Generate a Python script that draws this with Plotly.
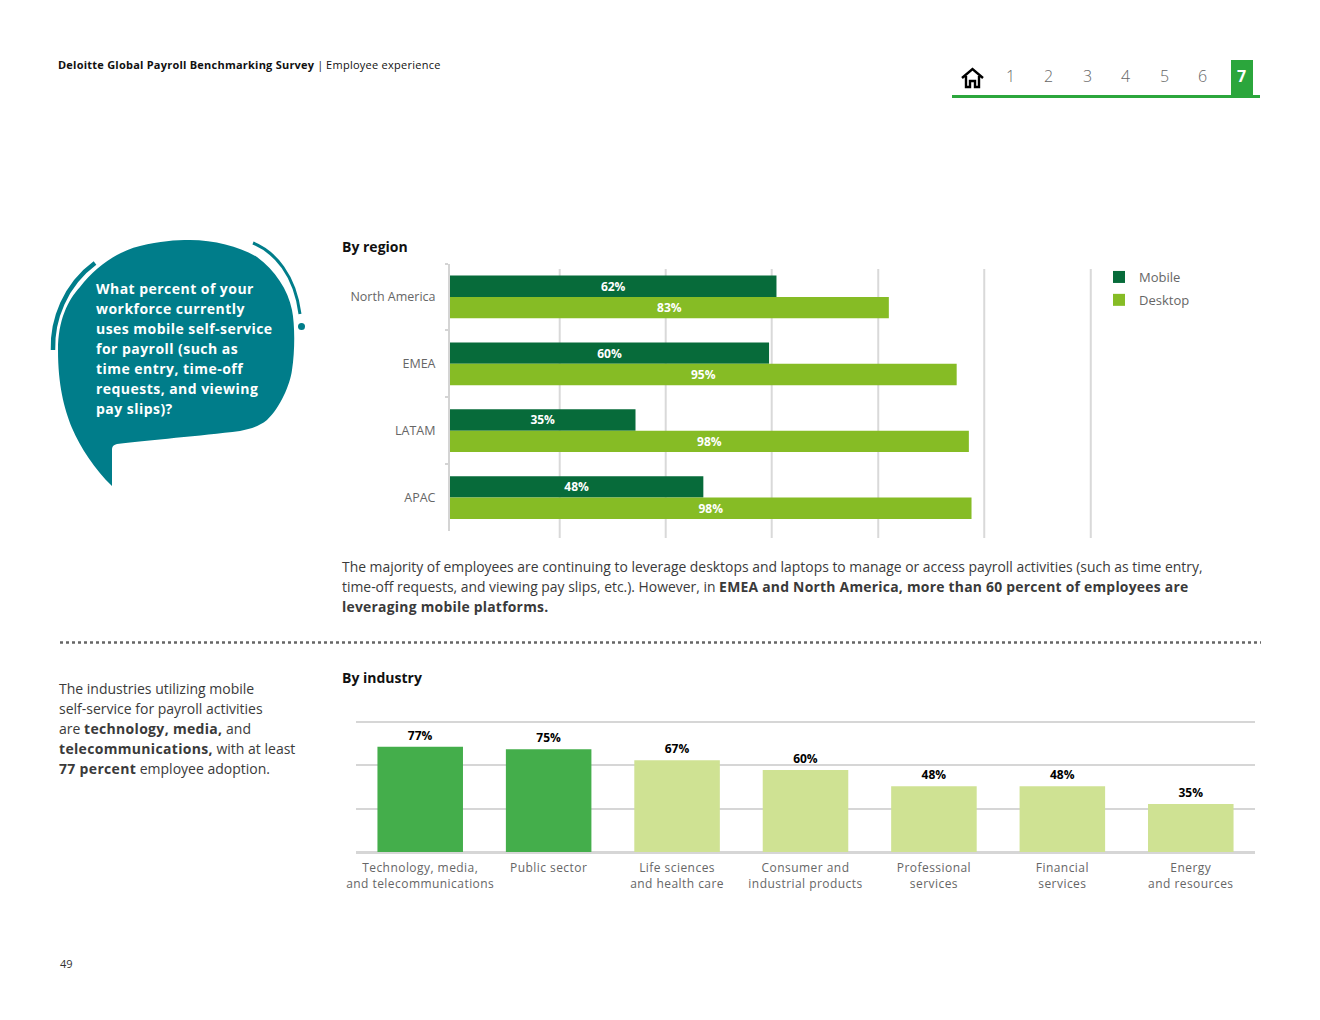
import plotly.graph_objects as go

W, H = 1320, 1020
FONT = "Open Sans"
DARK_TEXT = "#666666"

# ---- data
regions = ["North America", "EMEA", "LATAM", "APAC"]
mobile = [61.6, 60.2, 35.0, 47.8]
desktop = [82.8, 95.6, 97.9, 98.4]
mobile_labels = ["62%", "60%", "35%", "48%"]
desktop_labels = ["83%", "95%", "98%", "98%"]

industries = [
    "Technology, media,<br>and telecommunications",
    "Public sector",
    "Life sciences<br>and health care",
    "Consumer and<br>industrial products",
    "Professional<br>services",
    "Financial<br>services",
    "Energy<br>and resources",
]
adoption = [77, 75, 67, 60, 48, 48, 35]
adoption_labels = ["77%", "75%", "67%", "60%", "48%", "48%", "35%"]
top_flags = [True, True, False, False, False, False, False]

region_grid = [20.7, 40.7, 60.7, 80.8, 100.8, 120.9]

bubble_lines = [
    "What percent of your", "workforce currently", "uses mobile self-service",
    "for payroll (such as", "time entry, time-off", "requests, and viewing", "pay slips)?",
]
side_lines = [
    "The industries utilizing mobile", "self-service for payroll activities",
    "are {b1} and",
    "{b2} with at least",
    "{b3} employee adoption.",
]
side_bold = {"b1": "technology, media,", "b2": "telecommunications,", "b3": "77 percent"}
body_lines = [
    "The majority of employees are continuing to leverage desktops and laptops to manage or access payroll activities (such as time entry,",
    "time-off requests, and viewing pay slips, etc.). However, in {b1}",
    "{b2}",
]
body_bold = {"b1": "EMEA and North America, more than 60 percent of employees are", "b2": "leveraging mobile platforms."}
nav_items = ["1", "2", "3", "4", "5", "6"]


def fx(px):
    return px / W


def fy(py):
    return 1 - py / H


def spaced(s, em, bold=False):
    """Letter-spaced run of real text; each <br>-separated line gets its own span."""
    parts = [f'<span style="letter-spacing:{em}px">{p}</span>' for p in s.split("<br>")]
    joined = "<br>".join(parts)
    return f"<b>{joined}</b>" if bold else joined


def to_paper_path(parts):
    out = []
    for p in parts:
        if isinstance(p, str):
            out.append(p)
        else:
            out.append(f"{fx(p[0]):.5f},{fy(p[1]):.5f}")
    return " ".join(out)


fig = go.Figure()

fig.add_trace(go.Bar(
    name="Mobile", y=regions, x=mobile, orientation="h", marker_color="#076B3A", marker_line_width=0,
    text=mobile_labels, textposition="inside", insidetextanchor="middle", textangle=0, constraintext="none",
    textfont=dict(family=FONT, size=12, color="white", weight="bold"),
    xaxis="x", yaxis="y", legendgroup="m",
))
fig.add_trace(go.Bar(
    name="Desktop", y=regions, x=desktop, orientation="h", marker_color="#86BC25", marker_line_width=0,
    text=desktop_labels, textposition="inside", insidetextanchor="middle", textangle=0, constraintext="none",
    textfont=dict(family=FONT, size=12, color="white", weight="bold"),
    xaxis="x", yaxis="y", legendgroup="d",
))
fig.add_trace(go.Bar(
    x=industries, y=adoption,
    marker_color=["#44AE4B" if f else "#CFE293" for f in top_flags], marker_line_width=0,
    text=adoption_labels, textposition="outside", cliponaxis=False, constraintext="none",
    textfont=dict(family=FONT, size=12, color="black", weight="bold"),
    xaxis="x2", yaxis="y2", showlegend=False, width=0.666,
))

shapes = []
# region chart gridlines, drawn below bars
for v in region_grid:
    shapes.append(dict(type="line", xref="x", yref="paper", x0=v, x1=v, y0=fy(269), y1=fy(538),
                       line=dict(color="#D9D9D9", width=2), layer="below"))

# speech bubble
bubble = to_paper_path([
    "M", (112, 486),
    "C", (95, 470), (80, 447), (72, 428),
    "C", (64, 408), (58, 385), (58, 350),
    "C", (58, 320), (68, 300), (80, 287),
    "C", (95, 268), (115, 252), (140, 246),
    "C", (160, 241), (175, 240), (190, 240),
    "C", (215, 240), (240, 247), (257, 257),
    "C", (275, 270), (288, 290), (292, 310),
    "C", (295, 325), (295, 350), (292, 370),
    "C", (290, 385), (280, 408), (267, 420),
    "C", (258, 427), (250, 429), (240, 431),
    "C", (200, 436), (150, 440), (117, 444),
    "C", (113, 445), (112, 447), (112, 450),
    "Z",
])
TEAL = "#007D8A"
shapes.append(dict(type="path", xref="paper", yref="paper", path=bubble, fillcolor=TEAL, line_width=0, layer="below"))
shapes.append(dict(type="path", xref="paper", yref="paper", line=dict(color=TEAL, width=4.5),
                   path=to_paper_path(["M", (53, 350), "C", (52, 320), (65, 285), (95, 263)])))
shapes.append(dict(type="path", xref="paper", yref="paper", line=dict(color=TEAL, width=3),
                   path=to_paper_path(["M", (253, 243), "C", (275, 252), (295, 275), (300, 314)])))
shapes.append(dict(type="circle", xref="paper", yref="paper", x0=fx(298), x1=fx(305), y0=fy(330), y1=fy(323),
                   fillcolor=TEAL, line_width=0))

# navigation
GREEN = "#2BA63C"
shapes.append(dict(type="rect", xref="paper", yref="paper", x0=fx(1231), x1=fx(1253), y0=fy(60), y1=fy(96),
                   fillcolor=GREEN, line_width=0))
shapes.append(dict(type="line", xref="paper", yref="paper", x0=fx(952), x1=fx(1260), y0=fy(96.5), y1=fy(96.5),
                   line=dict(color=GREEN, width=3)))
home = to_paper_path([
    "M", (962, 78), "L", (972.5, 69), "L", (983, 78),
    "M", (966, 76), "L", (966, 87), "L", (970, 87), "L", (970, 81), "L", (975, 81), "L", (975, 87),
    "L", (979, 87), "L", (979, 76),
])
shapes.append(dict(type="path", xref="paper", yref="paper", path=home, line=dict(color="black", width=2.4)))

# dotted divider
shapes.append(dict(type="line", xref="paper", yref="paper", x0=fx(60), x1=fx(1261), y0=fy(642.5), y1=fy(642.5),
                   line=dict(color="#666666", width=2.5, dash="dot")))


annotations = []


def text(px, py, s, size=14, color="#333333", anchor="left", bold=False, weight=None):
    annotations.append(dict(
        xref="paper", yref="paper", x=fx(px), y=fy(py), text=s, showarrow=False,
        xanchor=anchor, yanchor="middle", align=anchor, borderpad=0,
        font=dict(family=FONT, size=size, color=color, weight=weight or ("bold" if bold else "normal")),
    ))


head = spaced("Deloitte Global Payroll Benchmarking Survey", 0.23, bold=True) + " | " + spaced("Employee experience", 0.26)
text(56.5, 64, head, 11, "#111111")
for i, n in enumerate(nav_items):
    text(1010 + i * 38.5, 76, n, 16, "#666666", "center", weight=300)
text(1241.5, 76, "7", 16, "white", "center", True)
text(341, 246, "By region", 14, "#111111", bold=True)
text(341, 677, "By industry", 14, "#111111", bold=True)
for i, s in enumerate(bubble_lines):
    text(95, 288.3 + i * 20, spaced(s, 0.46), 14, "white", bold=True)
body_b = {k: spaced(v, 0.24, bold=True) for k, v in body_bold.items()}
for i, s in enumerate(body_lines):
    text(341, 566 + i * 20, s.format(**body_b) if "{" in s else s, 13.92, "#3A3A3A")
side_b = {k: spaced(v, 0.32, bold=True) for k, v in side_bold.items()}
for i, s in enumerate(side_lines):
    text(58, 688 + i * 20, s.format(**side_b) if "{" in s else s, 14, "#3A3A3A")
text(59, 963, "49", 11, "#333333")

# px per percent of the industry axis; the range stops a little above the top gridline
IND_BASE, IND_TOP, IND_GRID_MAX, IND_RANGE_MAX = 852, 722, 95, 96
ind_px = (IND_BASE - IND_TOP) / IND_GRID_MAX

fig.update_layout(
    width=W, height=H, margin=dict(l=0, r=0, t=0, b=0),
    paper_bgcolor="white", plot_bgcolor="rgba(0,0,0,0)",
    font=dict(family=FONT),
    shapes=shapes, annotations=annotations,
    bargap=0.36, bargroupgap=0, barmode="group",
    legend=dict(x=fx(1099), y=fy(262), xanchor="left", yanchor="top", tracegroupgap=3,
                font=dict(family=FONT, size=13, color=DARK_TEXT), bgcolor="rgba(0,0,0,0)",
                traceorder="grouped"),
    xaxis=dict(domain=[fx(450), fx(1110)], range=[0, (1110 - 450) / 5.3], showgrid=False, zeroline=False,
               showticklabels=False, ticks=""),
    yaxis=dict(domain=[fy(531), fy(263.5)], type="category", autorange="reversed",
               showline=True, linecolor="#D4D4D4", linewidth=2, ticks="outside", ticklen=3, tickwidth=1.5,
               tickcolor="#D4D4D4", tickson="boundaries", ticklabelstandoff=10,
               tickfont=dict(family=FONT, size=12.5, color=DARK_TEXT), anchor="x"),
    xaxis2=dict(domain=[fx(356), fx(1255)], anchor="y2", showgrid=False, zeroline=False, ticks="",
                tickmode="array", tickvals=industries, ticktext=[spaced(s, 0.45) for s in industries],
                ticklabelstandoff=7,
                tickfont=dict(family=FONT, size=12, color=DARK_TEXT), tickangle=0, type="category", automargin=False),
    yaxis2=dict(domain=[fy(IND_BASE), fy(IND_BASE - ind_px * IND_RANGE_MAX)], anchor="x2", range=[0, IND_RANGE_MAX],
                tick0=0, dtick=IND_GRID_MAX / 3,
                showgrid=True, gridcolor="#D6D6D6", gridwidth=2, zeroline=True, zerolinecolor="#D6D6D6", zerolinewidth=2.5,
                showticklabels=False, ticks=""),
)

fig.write_html("out.html", post_script="document.body.style.margin='0';", config=dict(displayModeBar=False))
